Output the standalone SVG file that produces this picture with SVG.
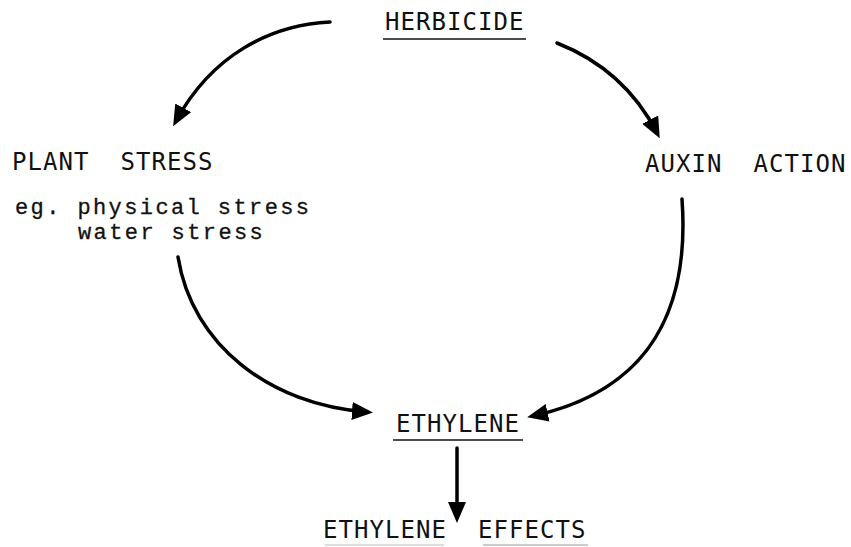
<svg xmlns="http://www.w3.org/2000/svg" width="851" height="547" viewBox="0 0 851 547">
<style>
.caps{font-family:"DejaVu Sans Mono","Liberation Mono",monospace;font-size:24px;letter-spacing:1.05px;fill:#111;}
.lower{font-family:"Liberation Mono","DejaVu Sans Mono",monospace;font-size:22px;letter-spacing:2.4px;fill:#111;stroke:#111;stroke-width:0.3;}
.ul{stroke:#111;stroke-width:1.6;}
.conn{fill:none;stroke:#000;stroke-width:3.5;stroke-linecap:round;marker-end:url(#ah);}
</style>
<defs>
<marker id="ah" viewBox="0 0 21 18" markerWidth="21" markerHeight="18" refX="15" refY="9" orient="auto" markerUnits="userSpaceOnUse">
<path d="M0,0 L21,9 L0,18 z" fill="#000"/>
</marker>
</defs>
<rect width="851" height="547" fill="#fff"/>
<g id="herbicide">
<text class="caps" x="385" y="30">HERBICIDE</text>
<line class="ul" x1="383" y1="39" x2="526" y2="39"/>
</g>
<g id="plant-stress">
<text class="caps" x="12" y="170" xml:space="preserve">PLANT  STRESS</text>
<text class="lower" x="15" y="214">eg. physical stress</text>
<text class="lower" x="78" y="239">water stress</text>
</g>
<g id="auxin-action">
<text class="caps" x="645" y="172" xml:space="preserve">AUXIN  ACTION</text>
</g>
<g id="ethylene">
<text class="caps" x="396" y="432">ETHYLENE</text>
<line class="ul" x1="393" y1="440" x2="523" y2="440"/>
</g>
<g id="ethylene-effects">
<text class="caps" x="323" y="538" xml:space="preserve">ETHYLENE  EFFECTS</text>
<line x1="325" y1="545" x2="444" y2="545" stroke="#bbb" stroke-width="1"/>
<line x1="483" y1="545" x2="588" y2="545" stroke="#999" stroke-width="1"/>
</g>
<g id="connectors">
<path class="conn" d="M330,22 C270,25 212,55 176,121"/>
<path class="conn" d="M557,43 C600,60 635,90 657,133"/>
<path class="conn" d="M178,257 C192,345 270,405 367,412"/>
<path class="conn" d="M682,199 C690,310 650,390 533,416"/>
<path class="conn" d="M457,448 L457,517"/>
</g>
</svg>
